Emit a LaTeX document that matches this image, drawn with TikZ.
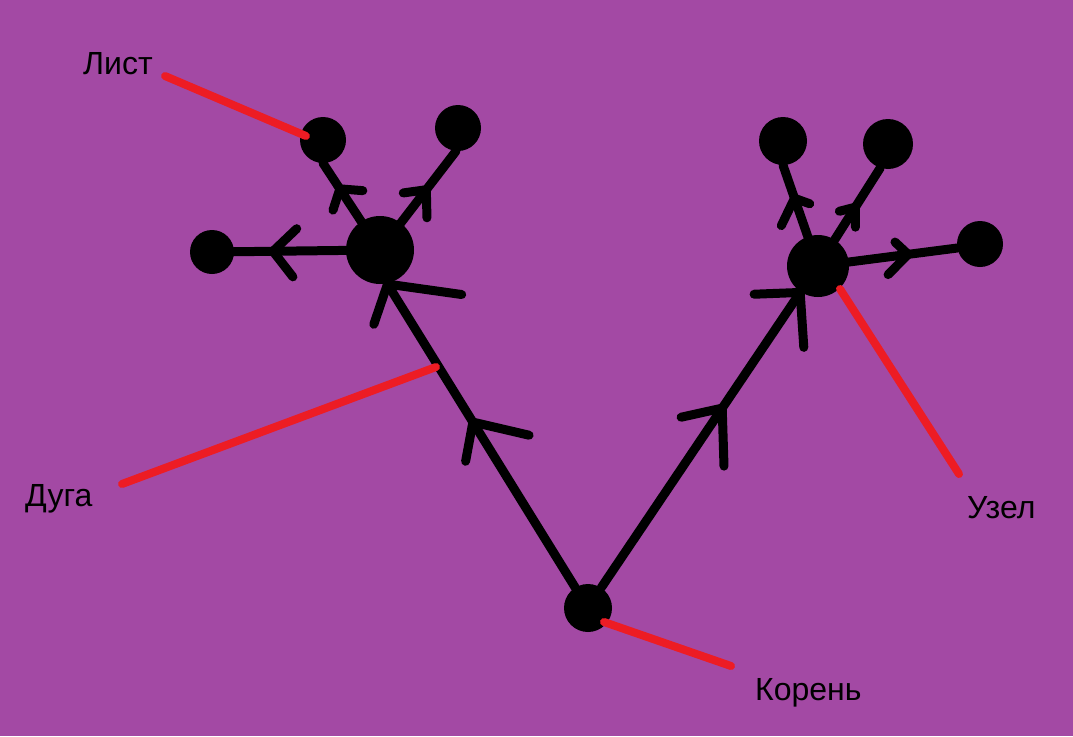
\documentclass[tikz,border=0pt]{standalone}
\usepackage{fontspec}
\setmainfont{Liberation Sans}
\usetikzlibrary{decorations.markings}
\definecolor{bgpurple}{HTML}{A349A4}
\definecolor{redline}{HTML}{ED1C24}
\tikzset{
  vtx/.style={circle, fill=black, inner sep=0pt, minimum size=#1},
  branch/.style={draw=black, line width=9pt, line cap=round},
  redptr/.style={draw=redline, line width=8pt, line cap=round},
  lbl/.style={anchor=base west, inner sep=0pt, font=\fontsize{32}{38}\selectfont, text=black},
  barb/.style n args={5}{postaction={decorate, decoration={markings,
      mark=at position #1 with {\draw[black, line width=9pt, line cap=round, line join=round]
        (-#2pt,#3pt) -- (0pt,0pt) -- (-#4pt,#5pt);}}}},
}
\begin{document}
\begin{tikzpicture}[x=1pt,y=-1pt]
  \fill[bgpurple] (0,0) rectangle (1073,736);
  \useasboundingbox (0,0) rectangle (1073,736);

  % nodes
  \node[vtx=48pt] (T) at (588,608) {};
  \node[vtx=68pt] (L) at (380,250) {};
  \node[vtx=62pt] (R) at (818,266) {};
  \node[vtx=46pt] (A) at (323,140) {};
  \node[vtx=46pt] (B) at (458,128) {};
  \node[vtx=44pt] (C) at (212,252) {};
  \node[vtx=48pt] (D) at (783,141) {};
  \node[vtx=50pt] (E) at (888,144) {};
  \node[vtx=46pt] (F) at (980,244) {};

  % main arcs
  \draw[branch, barb={0.544}{40.7}{-40.9}{29.5}{26.8}, barb={0.998}{47.9}{-57.6}{27}{32.8}]
    (T.122) -- (L.282);
  \draw[branch, barb={0.607}{30.5}{29}{47.1}{-33.9}, barb={0.998}{27.2}{37.2}{43.5}{-33.7}]
    (T.57) -- (R.236);

  % leaf arcs, left
  \draw[branch, barb={0.705}{14.1}{-18.2}{14}{17.4}] (L.center) -- (A.south);
  \draw[branch, barb={0.61}{16.6}{16.3}{21.9}{-17.6}] (L.center) -- (B.265);
  \draw[branch, barb={0.637}{24}{-22.3}{19.6}{25.8}] (L.center) -- (C.center);

  % leaf arcs, right
  \draw[branch, barb={0.672}{10.2}{-12.6}{21.5}{21.4}] (R.center) -- (D.south);
  \draw[branch, barb={0.60}{12}{11.3}{16.8}{-10.8}] (R.center) -- (E.252);
  \draw[branch, barb={0.648}{11.5}{13.9}{22.5}{-17.5}] (R.center) -- (F.190);

  % labels
  \node[lbl] (tList) at (83,74) {Лист};
  \node[lbl] (tDuga) at (25,506) {Дуга};
  \node[lbl] (tKoren) at (755,700) {Корень};
  \node[lbl] (tUzel) at (967,518) {Узел};

  % red pointers
  \coordinate (pList1) at (165,76);
  \coordinate (pList2) at (306,136);
  \coordinate (pDuga1) at (122,484);
  \coordinate (pDuga2) at (436,367);
  \coordinate (pKoren1) at (604,622);
  \coordinate (pKoren2) at (731,666);
  \coordinate (pUzel1) at (840,289);
  \coordinate (pUzel2) at (959,474);
  \draw[redptr] (pList1) -- (pList2);
  \draw[redptr] (pDuga1) -- (pDuga2);
  \draw[redptr] (pKoren1) -- (pKoren2);
  \draw[redptr] (pUzel1) -- (pUzel2);
\end{tikzpicture}
\end{document}
